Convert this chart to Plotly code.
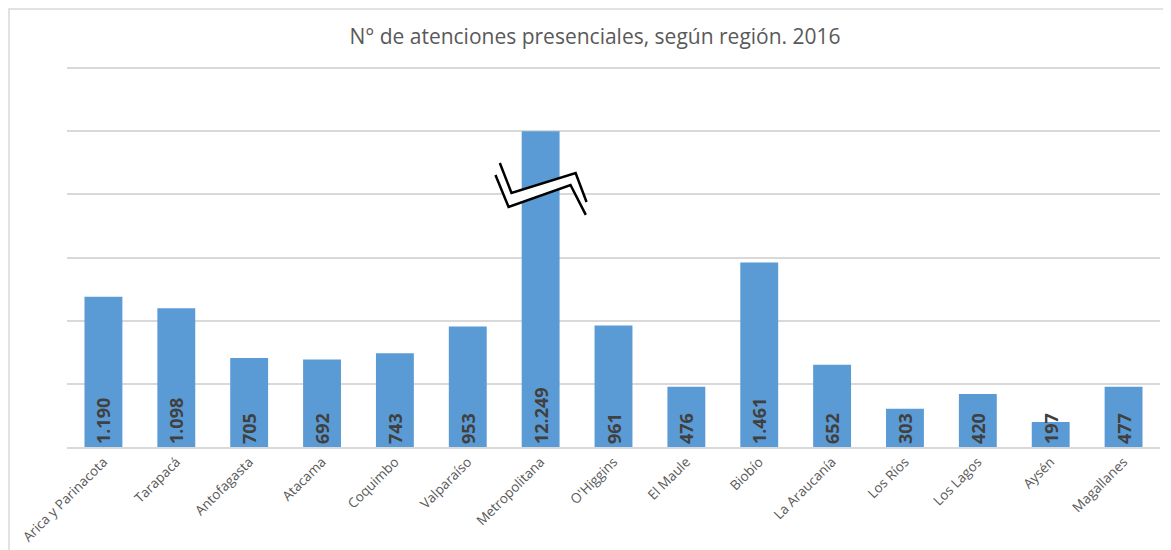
import plotly.graph_objects as go

regions = ["Arica y Parinacota", "Tarapacá", "Antofagasta", "Atacama", "Coquimbo",
           "Valparaíso", "Metropolitana", "O'Higgins", "El Maule", "Biobío",
           "La Araucanía", "Los Ríos", "Los Lagos", "Aysén", "Magallanes"]
atenciones = [1190, 1098, 705, 692, 743, 953, 12249, 961, 476, 1461, 652, 303, 420, 197, 477]

axis_break = 2500  # broken-axis cap for the Metropolitana bar
x_idx = list(range(len(regions)))
shown = [min(v, axis_break) for v in atenciones]
labels = [f"{v:,}".replace(",", ".") for v in atenciones]

fig = go.Figure(go.Bar(
    x=x_idx, y=shown, text=labels,
    marker=dict(color="#5b9bd5", line=dict(width=0)),
    textposition="inside", insidetextanchor="start", textangle=-90,
    textfont=dict(family="Noto Sans", size=18, color="#404040", weight="bold"),
    width=0.52, cliponaxis=False,
))

# broken-axis symbol on the Metropolitana bar
up = [(5.44, 2248), (5.60, 2011), (6.48, 2169), (6.63, 1939)]
lo = [(5.38, 2153), (5.56, 1900), (6.41, 2074), (6.62, 1837)]
def path(pts, close=False):
    s = "M " + " L ".join(f"{x},{y}" for x, y in pts)
    return s + (" Z" if close else "")

W, H, L, T, PW, PH = 1163, 542, 59, 59, 1093, 380
shapes = [
    dict(type="path", xref="x", yref="y", path=path(up + lo[::-1], True),
         fillcolor="white", line=dict(width=0)),
    dict(type="path", xref="x", yref="y", path=path(up), line=dict(color="black", width=2.5)),
    dict(type="path", xref="x", yref="y", path=path(lo), line=dict(color="black", width=2.5)),
    dict(type="rect", xref="paper", yref="paper", x0=(1 - L) / PW, x1=(W + 10 - L) / PW,
         y0=-(H - T - PH + 10) / PH, y1=1 + (T - 1) / PH,
         line=dict(color="#d9d9d9", width=1.5), fillcolor="rgba(0,0,0,0)", layer="below"),
]

fig.update_layout(
    width=W, height=H,
    margin=dict(l=L, r=W - L - PW, t=T, b=H - T - PH, autoexpand=False),
    paper_bgcolor="white", plot_bgcolor="white",
    title=dict(text="N° de atenciones presenciales, según región. 2016",
               x=587 / W, xanchor="center", y=1 - 29 / H, yanchor="middle",
               font=dict(family="Open Sans", size=21, color="#595959")),
    showlegend=False,
    uniformtext=dict(minsize=18, mode="show"),
    shapes=shapes,
    xaxis=dict(tickmode="array", tickvals=x_idx, ticktext=regions, tickangle=-45,
               range=[-0.5, len(regions) - 0.5], showgrid=False, ticks="", automargin=False,
               showline=True, linecolor="#d9d9d9", linewidth=1.5,
               tickfont=dict(family="Open Sans", size=13.5, color="#595959")),
    yaxis=dict(range=[0, 3008], tickvals=[500, 1000, 1500, 2000, 2500, 3000],
               showticklabels=False, showgrid=True, automargin=False,
               gridcolor="#d9d9d9", gridwidth=1.5, zeroline=False, showline=False, ticks=""),
)

fig.write_html("out.html")
